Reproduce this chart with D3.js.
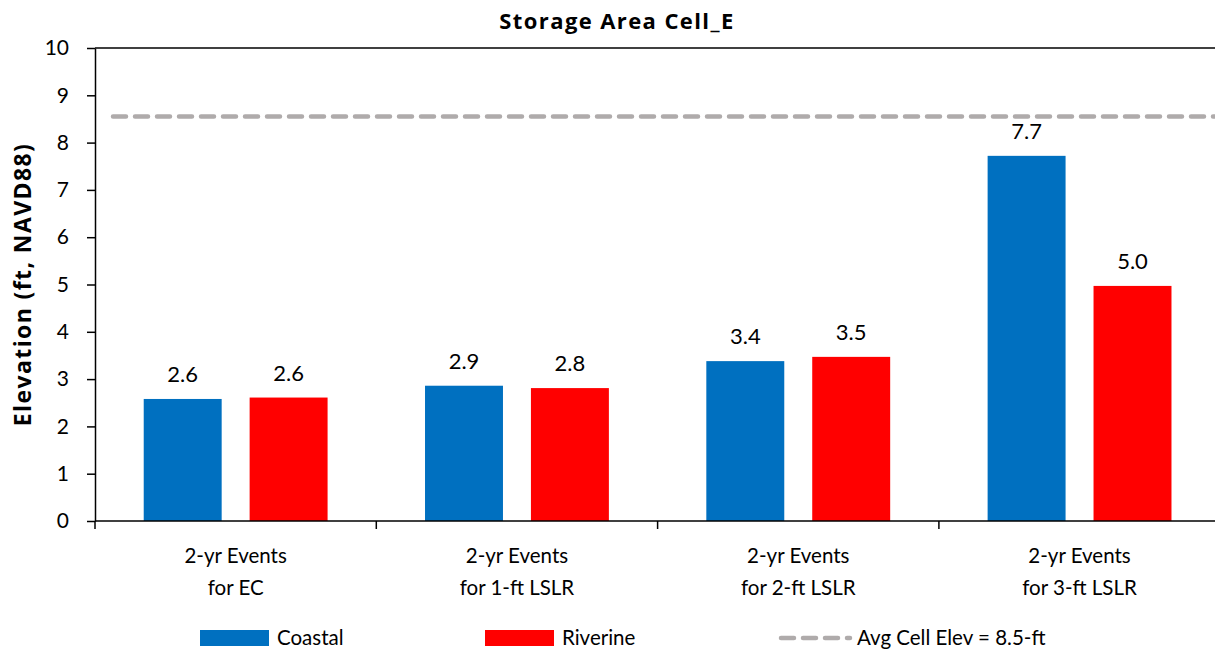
<!DOCTYPE html>
<html>
<head>
<meta charset="utf-8">
<script src="https://cdn.jsdelivr.net/npm/d3@7"></script>
<style>
  body { margin: 0; background: #fff; }
  svg { display: block; font-family: Lato, "Open Sans", sans-serif; }
</style>
</head>
<body>
<svg id="chart"></svg>
<script>
var categories = [
  "2-yr Events\nfor EC",
  "2-yr Events\nfor 1-ft LSLR",
  "2-yr Events\nfor 2-ft LSLR",
  "2-yr Events\nfor 3-ft LSLR"
];
var seriesNames = ["Coastal", "Riverine"];
var coastal = [2.58, 2.86, 3.38, 7.72];
var riverine = [2.61, 2.81, 3.47, 4.97];
var avgElev = 8.55;
var yTicks = [0, 1, 2, 3, 4, 5, 6, 7, 8, 9, 10];

var colors = { Coastal: "#0070C0", Riverine: "#FF0000" };

var W = 1215, H = 652;
var margin = { top: 48, left: 95, bottom: 131 };
var plotH = H - margin.top - margin.bottom;
var catW = 281.3;

var svg = d3.select("#chart").attr("width", W).attr("height", H);

// scales
var x0 = d3.scaleBand()
  .domain(categories)
  .range([margin.left, margin.left + catW * categories.length])
  .padding(0);

var x1 = d3.scaleBand()
  .domain(seriesNames)
  .range([0, x0.bandwidth()])
  .paddingInner(0.264)
  .paddingOuter(0.46);

var y = d3.scaleLinear().domain([0, 10]).range([margin.top + plotH, margin.top]);

var rows = categories.map(function (c, i) {
  return { cat: c, values: [
    { name: "Coastal", v: coastal[i] },
    { name: "Riverine", v: riverine[i] }
  ] };
});

// top border of plot area
svg.append("line")
  .attr("x1", margin.left).attr("x2", W)
  .attr("y1", y(10)).attr("y2", y(10))
  .attr("stroke", "#000").attr("stroke-width", 1.5);

// bars
var groups = svg.selectAll(".grp")
  .data(rows)
  .enter().append("g")
  .attr("class", "grp")
  .attr("transform", function (d) { return "translate(" + x0(d.cat) + ",0)"; });

groups.selectAll("rect")
  .data(function (d) { return d.values; })
  .enter().append("rect")
  .attr("x", function (d) { return x1(d.name); })
  .attr("width", x1.bandwidth())
  .attr("y", function (d) { return y(d.v); })
  .attr("height", function (d) { return y(0) - y(d.v); })
  .attr("fill", function (d) { return colors[d.name]; });

groups.selectAll("text.val")
  .data(function (d) { return d.values; })
  .enter().append("text")
  .attr("class", "val")
  .attr("x", function (d) { return x1(d.name) + x1.bandwidth() / 2; })
  .attr("y", function (d) { return y(d.v) - 17; })
  .attr("text-anchor", "middle")
  .style("font-size", "22px")
  .text(function (d) { return d3.format(".1f")(d.v); });

// average elevation line
svg.append("line")
  .attr("x1", margin.left + 18).attr("x2", W)
  .attr("y1", y(avgElev)).attr("y2", y(avgElev))
  .attr("stroke", "#AFABAB").attr("stroke-width", 4.5)
  .attr("stroke-dasharray", "13,9")
  .attr("stroke-linecap", "round");

// y axis
var yAxis = svg.append("g")
  .attr("transform", "translate(" + margin.left + ",0)")
  .call(d3.axisLeft(y).tickValues(yTicks).tickSize(8).tickPadding(18).tickSizeOuter(0));
yAxis.select(".domain").attr("stroke-width", 1.5);
yAxis.selectAll(".tick line").attr("stroke-width", 1.5);
yAxis.selectAll("text").style("font-size", "21px").style("font-family", "Lato, sans-serif").attr("fill", "#000");

// x axis
svg.append("line")
  .attr("x1", margin.left).attr("x2", W)
  .attr("y1", y(0)).attr("y2", y(0))
  .attr("stroke", "#000").attr("stroke-width", 1.5);

var boundaries = categories.map(function (c) { return x0(c); }).concat([x0.range()[1]]);
svg.selectAll(".xtick")
  .data(boundaries)
  .enter().append("line")
  .attr("x1", function (d) { return d; }).attr("x2", function (d) { return d; })
  .attr("y1", y(0)).attr("y2", y(0) + 8)
  .attr("stroke", "#000").attr("stroke-width", 1.5);

var catLabels = svg.selectAll(".cat")
  .data(categories)
  .enter().append("text")
  .attr("class", "cat")
  .attr("text-anchor", "middle")
  .style("font-size", "20.5px");
catLabels.selectAll("tspan")
  .data(function (d) { return d.split("\n").map(function (s) { return { s: s, c: d }; }); })
  .enter().append("tspan")
  .attr("x", function (d) { return x0(d.c) + x0.bandwidth() / 2; })
  .attr("y", function (d, i) { return 563 + i * 32; })
  .text(function (d) { return d.s; });

// titles
svg.append("text")
  .attr("x", 617).attr("y", 29)
  .attr("text-anchor", "middle")
  .style("font-family", "'Open Sans', sans-serif")
  .style("font-size", "22px").style("font-weight", "bold")
  .style("letter-spacing", "1.4px")
  .text("Storage Area Cell_E");

svg.append("text")
  .attr("transform", "translate(31," + (margin.top + plotH / 2) + ") rotate(-90)")
  .attr("text-anchor", "middle")
  .style("font-family", "'Open Sans', sans-serif")
  .style("font-size", "23px").style("font-weight", "bold")
  .style("letter-spacing", "1.4px")
  .text("Elevation (ft, NAVD88)");

// legend
var legY = 638;
var leg = svg.append("g");
[{ name: "Coastal", x: 200 }, { name: "Riverine", x: 485 }].forEach(function (d) {
  leg.append("rect")
    .attr("x", d.x).attr("y", legY - 8)
    .attr("width", 69).attr("height", 16)
    .attr("fill", colors[d.name]);
  leg.append("text")
    .attr("x", d.x + 77).attr("y", legY + 7)
    .style("font-size", "20.5px")
    .text(d.name);
});
leg.append("line")
  .attr("x1", 781).attr("x2", 850)
  .attr("y1", legY).attr("y2", legY)
  .attr("stroke", "#AFABAB").attr("stroke-width", 4.5)
  .attr("stroke-dasharray", "13,9")
  .attr("stroke-linecap", "round");
leg.append("text")
  .attr("x", 857).attr("y", legY + 7)
  .style("font-size", "20.5px")
  .text("Avg Cell Elev = 8.5-ft");
</script>
</body>
</html>
